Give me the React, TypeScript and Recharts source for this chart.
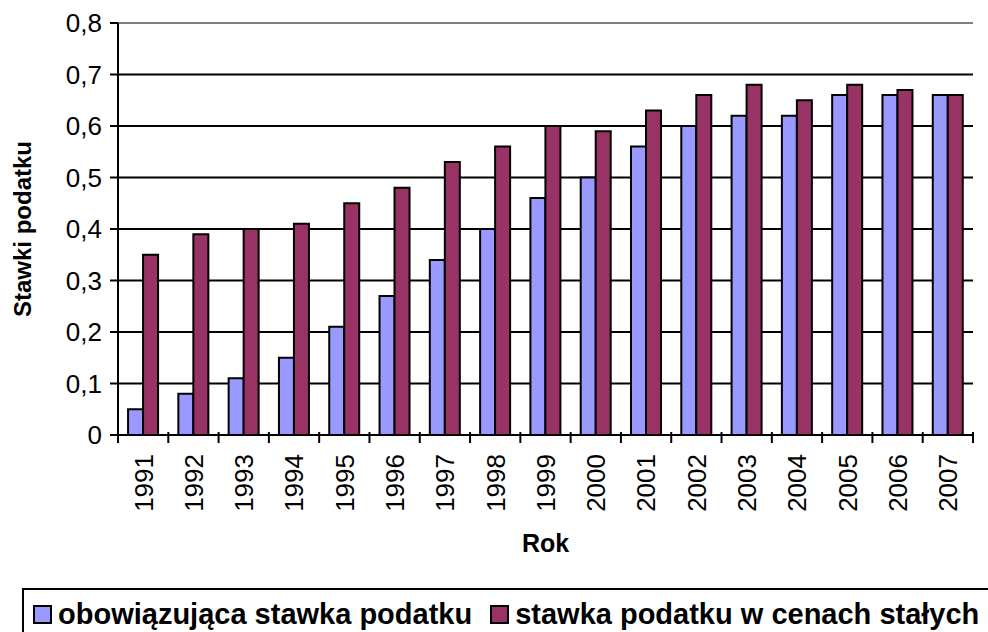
import React from 'react';
import { BarChart, Bar, XAxis, YAxis, CartesianGrid, ReferenceLine, Label } from 'recharts';

const years = ['1991','1992','1993','1994','1995','1996','1997','1998','1999','2000','2001','2002','2003','2004','2005','2006','2007'];
const obowiazujaca = [0.05,0.08,0.11,0.15,0.21,0.27,0.34,0.40,0.46,0.50,0.56,0.60,0.62,0.62,0.66,0.66,0.66];
const stale = [0.35,0.39,0.40,0.41,0.45,0.48,0.53,0.56,0.60,0.59,0.63,0.66,0.68,0.65,0.68,0.67,0.66];
const yTicks = [0,0.1,0.2,0.3,0.4,0.5,0.6,0.7,0.8];
const seriesNames = ['obowiązująca stawka podatku','stawka podatku w cenach stałych'];
const seriesColors = ['#9999FF','#993366'];

const data = years.map((y, i) => ({ year: y, a: obowiazujaca[i], b: stale[i] }));

const W = 988;
const H = 632;
const M = { top: 23, right: 15, left: 0, bottom: 80 };
const YW = 118;
const XH = H - M.top - M.bottom - (435 - 23);
const STEP = (W - YW - M.right) / years.length;
const FONT = '"Liberation Sans", Arial, sans-serif';

const XTick = (props: any) => {
  const { x, y, payload, index } = props;
  const half = STEP / 2;
  return (
    <g>
      <line x1={x - half} x2={x - half} y1={y - 3} y2={y + 8} stroke="#000" strokeWidth={2} />
      {index === years.length - 1 && (
        <line x1={x + half} x2={x + half} y1={y - 3} y2={y + 8} stroke="#000" strokeWidth={2} />
      )}
      <text
        transform={`translate(${x},${y + 19}) rotate(-90)`}
        textAnchor="end"
        dy="0.36em"
        fontSize={26}
        fontFamily={FONT}
        fill="#000"
      >
        {payload.value}
      </text>
    </g>
  );
};

const fmt = (v: number) => (v === 0 ? '0' : v.toFixed(1).replace('.', ','));

export default function App() {
  return (
    <div style={{ position: 'absolute', left: 0, top: 0, width: W, height: H, overflow: 'hidden', background: '#fff', fontFamily: FONT }}>
      <BarChart width={W} height={H} data={data} margin={M} barCategoryGap="20%" barGap={0}>
        <CartesianGrid vertical={false} stroke="#000" strokeWidth={2} />
        <XAxis
          dataKey="year"
          height={XH}
          tick={<XTick />}
          tickLine={false}
          tickSize={0}
          tickMargin={0}
          interval={0}
          axisLine={{ stroke: '#000', strokeWidth: 2 }}
        >
          <Label
            value="Rok"
            position="insideBottom"
            offset={0}
            style={{ fontSize: 25, fontWeight: 'bold', fontFamily: FONT, fill: '#000' }}
          />
        </XAxis>
        <YAxis
          domain={[0, 0.8]}
          ticks={yTicks}
          width={YW}
          tickFormatter={fmt}
          interval={0}
          tickSize={8}
          tickMargin={8}
          tick={{ fontSize: 26, fill: '#000', fontFamily: FONT }}
          tickLine={{ stroke: '#000', strokeWidth: 2 }}
          axisLine={{ stroke: '#000', strokeWidth: 2 }}
        >
          <Label
            content={(p: any) => {
              const vb = p.viewBox;
              const cx = 22;
              const cy = vb.y + vb.height / 2;
              return (
                <text
                  x={cx}
                  y={cy}
                  transform={`rotate(-90, ${cx}, ${cy})`}
                  textAnchor="middle"
                  dominantBaseline="central"
                  fontSize={24}
                  fontWeight="bold"
                  fontFamily={FONT}
                  fill="#000"
                >
                  Stawki podatku
                </text>
              );
            }}
          />
        </YAxis>
        <YAxis
          yAxisId="right"
          orientation="right"
          width={0}
          domain={[0, 0.8]}
          tick={false}
          tickLine={false}
          axisLine={{ stroke: '#808080', strokeWidth: 2 }}
        />
        <ReferenceLine y={0.8} stroke="#808080" strokeWidth={2} />
        <Bar dataKey="a" name={seriesNames[0]} fill={seriesColors[0]} stroke="#000" strokeWidth={2} isAnimationActive={false} />
        <Bar dataKey="b" name={seriesNames[1]} fill={seriesColors[1]} stroke="#000" strokeWidth={2} isAnimationActive={false} />
      </BarChart>
      <div
        style={{
          position: 'absolute',
          left: 22,
          top: 588,
          width: 1000,
          height: 60,
          border: '2px solid #000',
          boxSizing: 'border-box',
          display: 'flex',
          alignItems: 'flex-start',
          paddingLeft: 9,
          paddingTop: 11,
          fontSize: 29,
          fontWeight: 'bold',
          lineHeight: '26px',
          whiteSpace: 'nowrap',
        }}
      >
        {seriesNames.map((n, i) => (
          <div key={n} style={{ display: 'flex', alignItems: 'center', marginLeft: i === 0 ? 0 : 18 }}>
            <span
              style={{
                display: 'inline-block',
                width: 19,
                height: 19,
                background: seriesColors[i],
                border: '2px solid #000',
                boxSizing: 'border-box',
                marginRight: 6,
              }}
            />
            <span>{n}</span>
          </div>
        ))}
      </div>
    </div>
  );
}
